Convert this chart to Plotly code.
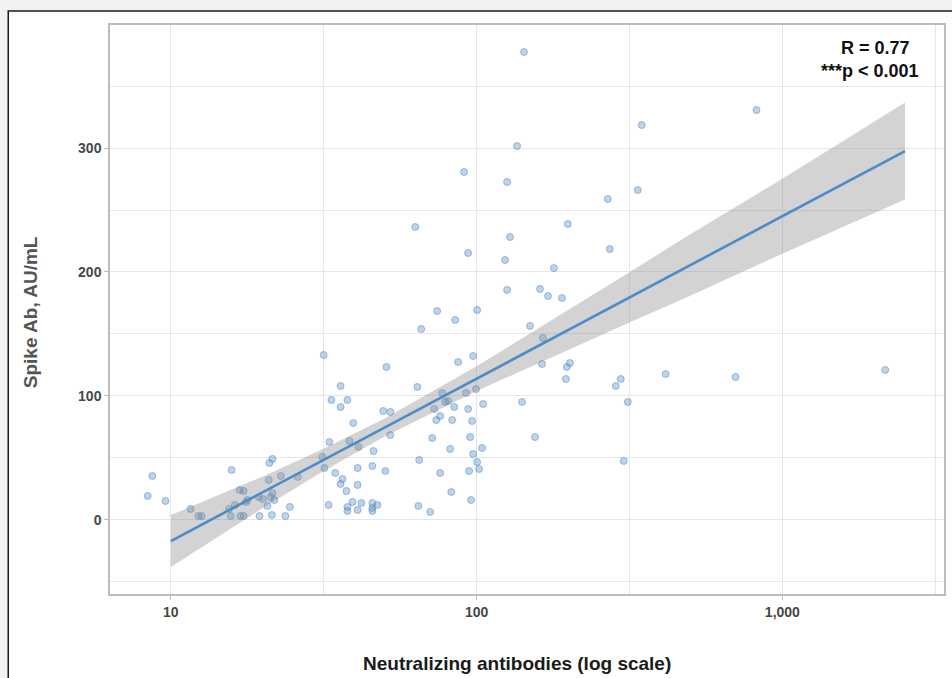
import plotly.graph_objects as go

# ---- data ----
nab = [8.4, 8.7, 9.6, 11.6, 12.3, 12.6, 15.8, 15.5, 15.7, 16.2, 16.8, 17.3, 16.9, 17.3, 17.6, 17.8,
       19.4, 19.5, 20.0, 20.7, 20.9, 21.0, 21.5, 21.4, 21.2, 21.5, 21.8, 22.9, 23.7, 24.5, 26.0,
       31.3, 31.8, 32.8, 33.0, 31.6, 33.5, 35.9, 37.8, 35.9, 39.5, 34.5, 36.4, 35.9, 38.4, 41.1,
       40.8, 40.8, 37.5, 39.3, 37.8, 37.8, 40.8, 42.0, 45.6, 46.0, 45.6, 45.6, 45.6, 47.4, 49.5,
       52.2, 50.3, 52.2, 50.7,
       64.0, 64.9, 64.5, 70.5, 71.6, 73.8, 76.0, 72.7, 77.2, 78.9, 80.7, 84.5, 83.2, 92.4, 99.6,
       93.8, 105.0, 96.7, 95.2, 81.9, 104.2, 97.4, 100.4, 101.9, 94.5, 76.0, 82.6, 95.9,
       63.0, 91.0, 125.8, 128.6, 93.8, 123.9, 125.8, 74.3, 85.1, 100.4, 65.9, 87.0, 97.4, 135.6, 142.9,
       346.7, 336.5, 268.5, 198.9, 272.6, 179.0, 161.2, 171.1, 190.1, 149.5, 164.8, 163.6, 197.4,
       201.9, 195.9, 296.1, 285.2, 415.2, 140.8, 312.2, 155.2, 302.9, 822.9, 702.7, 2169]

spike = [19.4, 35.5, 15.3, 8.9, 3.2, 3.2, 40.3, 8.9, 3.2, 12.1, 24.2, 23.4, 3.2, 3.2, 14.5, 16.1,
         18.5, 3.2, 16.9, 11.3, 32.3, 46.0, 49.2, 4.0, 18.5, 21.8, 16.1, 35.5, 3.2, 10.5, 34.7,
         50.8, 41.9, 12.1, 62.9, 133.1, 96.8, 108.1, 96.8, 91.1, 78.2, 37.9, 33.1, 29.0, 63.7, 58.9,
         41.9, 28.2, 23.4, 14.5, 10.5, 7.3, 8.1, 13.7, 43.5, 55.6, 13.7, 9.7, 7.3, 12.1, 87.9,
         87.1, 39.5, 68.5, 123.4,
         107.3, 48.4, 11.3, 6.5, 66.1, 80.6, 83.9, 89.5, 102.4, 95.2, 96.0, 91.1, 80.6, 102.4, 105.6,
         89.5, 93.5, 79.8, 66.9, 57.3, 58.1, 53.2, 46.8, 41.1, 39.5, 37.9, 22.6, 16.1,
         236.3, 280.6, 272.6, 228.2, 215.3, 209.7, 185.5, 168.5, 161.3, 169.4, 154.0, 127.4, 132.3, 301.6, 377.4,
         318.5, 266.1, 258.9, 238.7, 218.5, 203.2, 186.3, 180.6, 179.0, 156.5, 146.8, 125.8, 123.4,
         126.6, 113.7, 113.7, 108.1, 117.7, 95.2, 95.2, 66.9, 47.6, 330.6, 115.3, 121.0]

fit_x = [10, 2518]
fit_y = [-17, 297.5]

band_x = [10, 20, 31.6, 50, 100, 200, 316, 500, 1000, 2518]
band_lo = [-38.0, 9.7, 39.5, 67.3, 104.0, 137.5, 159.2, 180.8, 214.8, 258.4]
band_hi = [4.0, 35.1, 57.5, 81.9, 124.0, 169.3, 199.8, 230.4, 275.2, 336.6]

x_tickvals = [10, 100, 1000]
x_ticktext = ["10", "100", "1,000"]
y_tickvals = [0, 100, 200, 300]

FONT = "Liberation Sans, Arial, sans-serif"

fig = go.Figure()

fig.add_trace(go.Scatter(
    x=nab, y=spike, mode="markers",
    marker=dict(size=7, color="rgba(74,134,196,0.36)",
                line=dict(color="rgba(74,134,196,0.48)", width=1)),
    hoverinfo="skip", showlegend=False))

fig.add_trace(go.Scatter(
    x=band_x + band_x[::-1], y=band_hi + band_lo[::-1],
    fill="toself", fillcolor="rgba(140,140,140,0.38)",
    line=dict(width=0), mode="lines", hoverinfo="skip", showlegend=False))

fig.add_trace(go.Scatter(
    x=fit_x, y=fit_y, mode="lines",
    line=dict(color="#4a8bc8", width=2.6),
    hoverinfo="skip", showlegend=False))

L, R, T, B = 110, 6, 25, 84
W, H = 952, 678
pw, ph = W - L - R, H - T - B

def px(xp):
    return (xp - L) / pw

def py(yp):
    return (H - B - yp) / ph

fig.add_shape(type="rect", xref="paper", yref="paper",
              x0=px(8), x1=px(975), y0=py(700), y1=py(11),
              line=dict(color="#1a1a1a", width=1.5), fillcolor="white", layer="below")

axis_common = dict(showline=True, mirror=True, linecolor="#bdbdbd", linewidth=1.5,
                   gridcolor="#e6e6e6", gridwidth=1, zeroline=False,
                   ticks="outside", ticklen=4, tickcolor="#bdbdbd",
                   tickfont=dict(family=FONT, size=14, color="#474747", weight="bold"))

fig.update_xaxes(type="log", range=[0.801, 3.5286],
                 tickmode="array", tickvals=x_tickvals, ticktext=x_ticktext,
                 minor=dict(tickvals=[31.62, 316.2, 3162], showgrid=True,
                            gridcolor="#e6e6e6", ticks=""),
                 **axis_common)
fig.update_yaxes(range=[-59.7, 399.2], tickmode="array", tickvals=y_tickvals,
                 minor=dict(tickvals=[-50, 50, 150, 250, 350], showgrid=True,
                            gridcolor="#e6e6e6", ticks=""),
                 **axis_common)

fig.add_annotation(xref="paper", yref="paper", x=px(518), y=py(663),
                   text="Neutralizing antibodies (log scale)", showarrow=False,
                   xanchor="center", yanchor="middle",
                   font=dict(family=FONT, size=19, color="#1a1a1a", weight="bold"))
fig.add_annotation(xref="paper", yref="paper", x=px(30), y=py(312),
                   text="Spike Ab, AU/mL", showarrow=False, textangle=-90,
                   xanchor="center", yanchor="middle",
                   font=dict(family=FONT, size=19, color="#555555", weight="bold"))
fig.add_annotation(xref="paper", yref="paper", x=px(914), y=py(48),
                   text="R = 0.77", showarrow=False, xanchor="right", yanchor="middle",
                   font=dict(family=FONT, size=18, color="#111111", weight="bold"))
fig.add_annotation(xref="paper", yref="paper", x=px(923), y=py(71),
                   text="***p < 0.001", showarrow=False, xanchor="right", yanchor="middle",
                   font=dict(family=FONT, size=18, color="#111111", weight="bold"))

fig.update_layout(width=W, height=H, autosize=False,
                  margin=dict(l=L, r=R, t=T, b=B, pad=0),
                  paper_bgcolor="#f1f1f1", plot_bgcolor="white",
                  font=dict(family=FONT))

fig.write_html("out.html", config={"displayModeBar": False},
               post_script="document.body.style.margin='0';document.body.style.overflow='hidden';document.body.style.background='#f1f1f1';")
